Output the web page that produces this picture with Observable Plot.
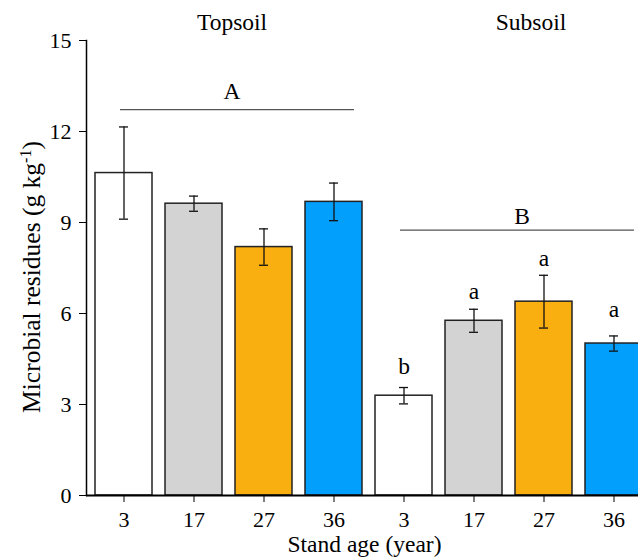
<!DOCTYPE html>
<html>
<head>
<meta charset="utf-8">
<script src="https://cdn.jsdelivr.net/npm/d3@7"></script>
<script src="https://cdn.jsdelivr.net/npm/@observablehq/plot@0.6"></script>
<style>
  html, body { margin: 0; padding: 0; background: white; overflow: hidden; }
  svg, svg text { font-family: "Liberation Serif", "DejaVu Serif", serif !important; }
  svg { font-size: 22px; }
  svg [aria-label="frame"] { stroke-width: 1.5; }
</style>
</head>
<body>
<script>
// ---- data ----
const layers = ["Topsoil", "Subsoil"];
const ages = ["3", "17", "27", "36"];
const topMean = [10.63, 9.62, 8.19, 9.68];
const topErr  = [1.52, 0.25, 0.60, 0.62];
const subMean = [3.29, 5.76, 6.39, 5.01];
const subErr  = [0.27, 0.38, 0.87, 0.25];
const subLetters = ["b", "a", "a", "a"];
const subLetterY = [4.02, 6.49, 7.55, 5.87];
const groupLetters = ["A", "B"];
const groupLineY = [12.72, 8.75];
const groupLetterY = [13.06, 8.96];
const ageColors = ["#ffffff", "#d3d3d3", "#f8af0f", "#039ffd"];
const yTicks = [0, 3, 6, 9, 12, 15];
const yLabel = "Microbial residues (g kg-1)";
const xLabel = "Stand age (year)";

// ---- build table ----
const rows = [];
layers.forEach((layer, li) => {
  const means = li === 0 ? topMean : subMean;
  const errs = li === 0 ? topErr : subErr;
  ages.forEach((age, ai) => {
    rows.push({
      key: layer + "-" + age, layer, age,
      mean: means[ai], lo: means[ai] - errs[ai], hi: means[ai] + errs[ai],
      letter: li === 1 ? subLetters[ai] : null,
      letterY: li === 1 ? subLetterY[ai] : null
    });
  });
});
const keys = rows.map(d => d.key);
const groups = layers.map((layer, i) => ({
  layer, letter: groupLetters[i], lineY: groupLineY[i], letterY: groupLetterY[i],
  from: layer + "-" + ages[0], to: layer + "-" + ages[ages.length - 1],
  mid: layer + "-" + ages[1]
}));

const font = 23.5;
const chart = Plot.plot({
  width: 638,
  height: 560,
  marginTop: 40,
  marginBottom: 65,
  marginLeft: 86,
  marginRight: 0,
  style: { fontFamily: "'Liberation Serif', serif", fontSize: "22px", color: "black", background: "white" },
  x: {
    type: "band", domain: keys, range: [86, 650],
    paddingInner: 0.19, paddingOuter: 0.095,
    tickSize: 7, tickPadding: 9, tickFormat: d => d.split("-")[1], label: null
  },
  y: { domain: [0, 15], ticks: yTicks, tickSize: 7, tickPadding: 8, line: true, label: null },
  color: { domain: ages, range: ageColors },
  marks: [
    Plot.barY(rows, { x: "key", y: "mean", fill: "age", stroke: "#222", strokeWidth: 1.5 }),
    Plot.ruleX(rows, { x: "key", y1: "lo", y2: "hi", stroke: "#111", strokeWidth: 1.3 }),
    Plot.tickY(rows, { x: "key", y: "hi", stroke: "#111", strokeWidth: 1.3, insetLeft: 24, insetRight: 24 }),
    Plot.tickY(rows, { x: "key", y: "lo", stroke: "#111", strokeWidth: 1.3, insetLeft: 24, insetRight: 24 }),
    Plot.ruleY([0], { stroke: "black", strokeWidth: 2 }),
    Plot.ruleY(groups, { y: "lineY", x1: "from", x2: "to", insetLeft: 25, insetRight: 8, stroke: "#555", strokeWidth: 1.3 }),
    Plot.text(rows.filter(d => d.letter), { x: "key", y: "letterY", text: "letter", lineAnchor: "bottom", fontSize: font }),
    Plot.text(groups.slice(0, 1), { x: "mid", y: "letterY", text: "letter", lineAnchor: "bottom", dx: 38, fontSize: font }),
    Plot.text(groups.slice(1, 2), { x: "mid", y: "letterY", text: "letter", lineAnchor: "bottom", dx: 48, fontSize: font }),
    Plot.text(groups.slice(0, 1), { x: "mid", text: "layer", frameAnchor: "top", lineAnchor: "bottom", dy: -10.7, dx: 38, fontSize: font }),
    Plot.text(groups.slice(1, 2), { x: "mid", text: "layer", frameAnchor: "top", lineAnchor: "bottom", dy: -10.7, dx: 57, fontSize: font }),
    Plot.text([yLabel], { text: d => d, frameAnchor: "left", textAnchor: "middle", rotate: -90, dx: -55, dy: 9, fontSize: 25.5 }),
    Plot.text([xLabel], { text: d => d, frameAnchor: "bottom", lineAnchor: "bottom", dy: 56, dx: 2, fontSize: font })
  ]
});
document.body.appendChild(chart);

// superscript for the unit in the y label
chart.querySelectorAll("text").forEach(t => {
  if (t.textContent === yLabel) {
    const ns = "http://www.w3.org/2000/svg";
    t.textContent = "";
    const a = document.createElementNS(ns, "tspan"); a.textContent = "Microbial residues (g kg";
    const b = document.createElementNS(ns, "tspan"); b.textContent = "-1"; b.setAttribute("dy", "-9"); b.style.fontSize = "16px";
    const c = document.createElementNS(ns, "tspan"); c.textContent = ")"; c.setAttribute("dy", "9");
    t.append(a, b, c);
  }
});
</script>
</body>
</html>
